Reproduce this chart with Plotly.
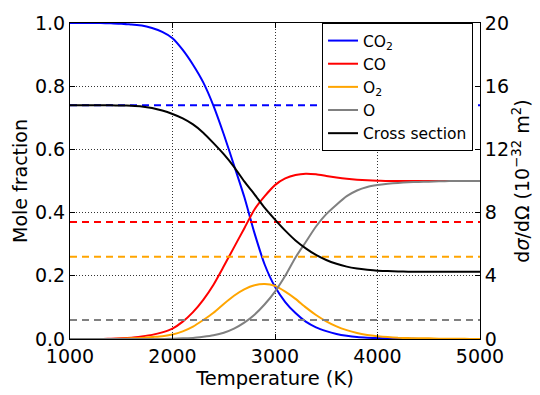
import plotly.graph_objects as go

temperature = list(range(1000, 5001, 100))

co2 = [1.0, 1.0, 1.0, 1.0, 0.999, 0.998, 0.995, 0.992, 0.984, 0.972,
       0.952, 0.915, 0.868, 0.812, 0.738, 0.648, 0.55, 0.45, 0.335, 0.235,
       0.165, 0.117, 0.082, 0.055, 0.037, 0.025, 0.016, 0.01, 0.006, 0.004,
       0.003, 0.002, 0.001, 0.001, 0.0, 0.0, 0.0, 0.0, 0.0, 0.0, 0.0]

co = [0.0, 0.0, 0.0, 0.0, 0.001, 0.002, 0.004, 0.008, 0.013, 0.021,
      0.033, 0.055, 0.085, 0.124, 0.172, 0.23, 0.29, 0.35, 0.41, 0.452,
      0.487, 0.508, 0.519, 0.523, 0.521, 0.516, 0.511, 0.507, 0.504, 0.502,
      0.501, 0.5, 0.5, 0.5, 0.5, 0.5, 0.5, 0.5, 0.5, 0.5, 0.5]

o2 = [0.0, 0.0, 0.0, 0.0, 0.0, 0.001, 0.002, 0.003, 0.006, 0.009,
      0.014, 0.024, 0.039, 0.06, 0.083, 0.111, 0.137, 0.157, 0.17, 0.174,
      0.168, 0.15, 0.127, 0.1, 0.076, 0.056, 0.04, 0.028, 0.019, 0.013,
      0.009, 0.006, 0.004, 0.003, 0.002, 0.002, 0.001, 0.001, 0.001, 0.0, 0.0]

o = [0.0, 0.0, 0.0, 0.0, 0.0, 0.0, 0.0, 0.0, 0.0, 0.0,
     0.001, 0.002, 0.003, 0.007, 0.012, 0.02, 0.033, 0.052, 0.077, 0.11,
     0.15, 0.2, 0.258, 0.307, 0.356, 0.395, 0.425, 0.452, 0.47, 0.481,
     0.487, 0.491, 0.494, 0.496, 0.497, 0.498, 0.499, 0.5, 0.5, 0.5, 0.5]

# cross section in units of 1e-32 m^2 (right axis)
cross_section = [14.8, 14.8, 14.8, 14.8, 14.8, 14.78, 14.76, 14.72, 14.62, 14.46,
                 14.24, 13.96, 13.58, 13.06, 12.4, 11.7, 10.9, 9.98, 9.16, 8.3,
                 7.56, 6.86, 6.24, 5.74, 5.32, 5.0, 4.76, 4.58, 4.46, 4.38,
                 4.32, 4.3, 4.28, 4.26, 4.26, 4.26, 4.26, 4.26, 4.26, 4.26, 4.26]

# species cross sections (right axis units), shown dashed
species_names = ["CO<sub>2</sub>", "CO", "O<sub>2</sub>", "O"]
species_sigma = [14.8, 7.4, 5.2, 1.2]
colors = ["#0000ff", "#ff0000", "#ffa500", "#808080"]

t_range = [1000, 5000]

font = "DejaVu Sans"
fig = go.Figure()

for sig, col in zip(species_sigma, colors):
    fig.add_trace(go.Scatter(x=t_range, y=[sig, sig], mode="lines", yaxis="y2",
                             line=dict(color=col, width=2, dash="7px,5px"),
                             showlegend=False, hoverinfo="skip"))

for name, ys, col in zip(species_names, [co2, co, o2, o], colors):
    fig.add_trace(go.Scatter(x=temperature, y=ys, mode="lines", name=name,
                             line=dict(color=col, width=2, shape="spline", smoothing=0.6)))

fig.add_trace(go.Scatter(x=temperature, y=cross_section, mode="lines", yaxis="y2",
                         name="Cross section",
                         line=dict(color="black", width=2, shape="spline", smoothing=0.6)))

grid = dict(showgrid=True, gridcolor="#333333", griddash="1px,2px", gridwidth=1)

fig.update_layout(
    width=540, height=395,
    margin=dict(l=70, r=51, t=16, b=52),
    paper_bgcolor="white", plot_bgcolor="white",
    font=dict(family=font, size=19, color="black"),
    showlegend=True,
    legend=dict(x=0.983, y=1.0, xanchor="right", yanchor="top",
                bgcolor="white", bordercolor="black", borderwidth=1,
                font=dict(size=15.5, family=font), itemwidth=30),
    xaxis=dict(range=[1000, 5000], tickvals=[1000, 2000, 3000, 4000, 5000],
               ticks="inside", ticklen=5, tickcolor="black", mirror="ticks",
               showline=True, linecolor="black", linewidth=1,
               zeroline=False, **grid,
               title=dict(text="Temperature (K)", font=dict(size=19.5), standoff=3)),
    yaxis=dict(range=[0, 1], tickvals=[0, 0.2, 0.4, 0.6, 0.8, 1.0], tickformat=".1f",
               ticks="inside", ticklen=5, tickcolor="black",
               showline=True, linecolor="black", linewidth=1,
               zeroline=False, **grid,
               title=dict(text="Mole fraction", font=dict(size=19), standoff=2)),
    yaxis2=dict(range=[0, 20], tickvals=[0, 4, 8, 12, 16, 20], overlaying="y", side="right",
                ticks="inside", ticklen=5, tickcolor="black",
                showline=True, linecolor="black", linewidth=1,
                showgrid=False, zeroline=False,
                title=dict(text="d<i>σ</i>/dΩ (10<sup>−32</sup> m<sup>2</sup>)",
                           font=dict(size=19), standoff=6)),
)

fig.write_html("out.html")
